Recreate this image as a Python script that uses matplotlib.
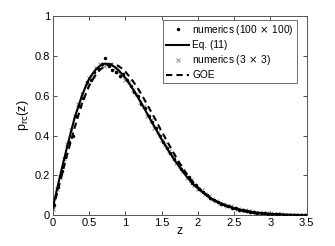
import matplotlib
matplotlib.use("Agg")
import matplotlib.pyplot as plt

plt.rcParams['font.family'] = ['Liberation Sans', 'DejaVu Sans']

# Eq. (11) curve (solid)
z_curve = [0.00, 0.05, 0.10, 0.15, 0.20, 0.25, 0.30, 0.35, 0.40, 0.45, 0.50, 0.55,
           0.60, 0.65, 0.70, 0.75, 0.80, 0.85, 0.90, 0.95, 1.00, 1.05, 1.10, 1.15,
           1.20, 1.25, 1.30, 1.35, 1.40, 1.45, 1.50, 1.55, 1.60, 1.65, 1.70, 1.75,
           1.80, 1.85, 1.90, 1.95, 2.00, 2.10, 2.20, 2.30, 2.40, 2.50, 2.60, 2.70,
           2.80, 2.90, 3.00, 3.10, 3.20, 3.30, 3.40, 3.50]
eq11 = [0.040, 0.120, 0.200, 0.275, 0.350, 0.420, 0.490, 0.545, 0.600, 0.645, 0.685, 0.712,
        0.735, 0.750, 0.760, 0.760, 0.755, 0.745, 0.730, 0.710, 0.690, 0.662, 0.635, 0.605,
        0.575, 0.542, 0.510, 0.477, 0.445, 0.412, 0.380, 0.350, 0.320, 0.292, 0.265, 0.240,
        0.215, 0.192, 0.170, 0.150, 0.135, 0.105, 0.080, 0.062, 0.048, 0.036, 0.027, 0.020,
        0.014, 0.010, 0.007, 0.005, 0.003, 0.002, 0.001, 0.001]
goe = [0.030, 0.100, 0.170, 0.240, 0.310, 0.375, 0.440, 0.500, 0.560, 0.605, 0.650, 0.682,
       0.710, 0.730, 0.745, 0.753, 0.758, 0.756, 0.750, 0.737, 0.720, 0.698, 0.675, 0.648,
       0.620, 0.588, 0.555, 0.522, 0.490, 0.455, 0.420, 0.388, 0.355, 0.322, 0.290, 0.260,
       0.230, 0.205, 0.180, 0.160, 0.140, 0.108, 0.080, 0.060, 0.045, 0.033, 0.022, 0.015,
       0.010, 0.007, 0.005, 0.003, 0.002, 0.001, 0.001, 0.000]

# numerics (100 x 100): dots
dots_z = [0.02, 0.07, 0.12, 0.17, 0.22, 0.27, 0.32, 0.37, 0.42, 0.47, 0.52, 0.57,
          0.62, 0.67, 0.72, 0.77, 0.82, 0.87, 0.92, 0.97, 1.02, 1.07, 1.12, 1.17,
          1.22, 1.27, 1.32, 1.37, 1.42, 1.47, 1.52, 1.57, 1.62, 1.67, 1.72, 1.77,
          1.82, 1.87, 1.92, 1.97, 2.02, 2.07, 2.12, 2.17, 2.22, 2.27, 2.32, 2.37,
          2.42, 2.47, 2.52, 2.57, 2.62, 2.67, 2.72, 2.77, 2.82, 2.87, 2.92, 2.97,
          3.02, 3.07, 3.12, 3.17, 3.22, 3.27, 3.32, 3.37, 3.42, 3.47]
dots_p = [0.050, 0.140, 0.220, 0.290, 0.370, 0.400, 0.500, 0.550, 0.590, 0.670, 0.680, 0.720,
          0.740, 0.760, 0.790, 0.750, 0.730, 0.720, 0.700, 0.710, 0.680, 0.650, 0.620, 0.600,
          0.560, 0.540, 0.500, 0.470, 0.440, 0.400, 0.370, 0.340, 0.310, 0.280, 0.260, 0.230,
          0.210, 0.190, 0.160, 0.150, 0.130, 0.115, 0.100, 0.085, 0.075, 0.065, 0.058, 0.050,
          0.046, 0.038, 0.034, 0.028, 0.025, 0.021, 0.018, 0.015, 0.012, 0.010, 0.009, 0.007,
          0.006, 0.005, 0.004, 0.003, 0.003, 0.002, 0.002, 0.001, 0.001, 0.001]

# numerics (3 x 3): crosses
cross_z = [0.00, 0.05, 0.10, 0.15, 0.20, 0.25, 0.30, 0.35, 0.40, 0.45, 0.50, 0.55,
           0.60, 0.65, 0.70, 0.75, 0.80, 0.85, 0.90, 0.95, 1.00, 1.05, 1.10, 1.15,
           1.20, 1.25, 1.30, 1.35, 1.40, 1.45, 1.50, 1.55, 1.60, 1.65, 1.70, 1.75,
           1.80, 1.85, 1.90, 1.95, 2.00, 2.05, 2.10, 2.15, 2.20, 2.25, 2.30, 2.35,
           2.40, 2.45, 2.50, 2.55, 2.60, 2.65, 2.70, 2.75, 2.80, 2.85, 2.90, 2.95,
           3.00, 3.05, 3.10, 3.15, 3.20, 3.25, 3.30, 3.35, 3.40, 3.45, 3.50]
cross_p = [0.030, 0.130, 0.190, 0.280, 0.360, 0.430, 0.500, 0.560, 0.610, 0.650, 0.690, 0.700,
           0.740, 0.760, 0.750, 0.760, 0.760, 0.740, 0.720, 0.700, 0.680, 0.670, 0.630, 0.610,
           0.570, 0.550, 0.500, 0.480, 0.440, 0.420, 0.380, 0.360, 0.320, 0.300, 0.260, 0.245,
           0.220, 0.185, 0.175, 0.150, 0.130, 0.125, 0.105, 0.095, 0.080, 0.072, 0.060, 0.057,
           0.047, 0.044, 0.035, 0.033, 0.026, 0.024, 0.019, 0.018, 0.013, 0.013, 0.009, 0.009,
           0.006, 0.006, 0.004, 0.004, 0.003, 0.003, 0.002, 0.002, 0.001, 0.001, 0.001]

xticks = [0, 0.5, 1, 1.5, 2, 2.5, 3, 3.5]
xticklabels = ['0', '0.5', '1', '1.5', '2', '2.5', '3', '3.5']
yticks = [0, 0.2, 0.4, 0.6, 0.8, 1]
yticklabels = ['0', '0.2', '0.4', '0.6', '0.8', '1']

fig = plt.figure(figsize=(3.35, 2.46), dpi=100)
ax = fig.add_axes([0.158, 0.125, 0.7575, 0.81])

ax.plot(dots_z, dots_p, linestyle='none', marker='.', color='black', markersize=3,
        label=r'numerics (100$\,\times\,$100)', zorder=4)
ax.plot(z_curve, eq11, '-', color='black', linewidth=1.5, label='Eq. (11)', zorder=3)
ax.plot(cross_z, cross_p, linestyle='none', marker='x', color='#8a8a8a', markersize=3.5,
        markeredgewidth=0.7, label=r'numerics (3$\,\times\,$3)', zorder=2)
ax.plot(z_curve, goe, '--', color='black', linewidth=1.5, dashes=(3, 2), label='GOE', zorder=3)

ax.set_xlim(0, 3.5)
ax.set_ylim(0, 1)
ax.set_xticks(xticks)
ax.set_xticklabels(xticklabels)
ax.set_yticks(yticks)
ax.set_yticklabels(yticklabels)
ax.tick_params(direction='in', top=True, right=True, length=3, width=0.6,
               labelsize=8, pad=2, colors='#333333', labelcolor='black')
for s in ax.spines.values():
    s.set_linewidth(0.7)
    s.set_color('#555555')

ax.set_xlabel('z', fontsize=9, labelpad=-2)
ax.set_ylabel(r'p$_{\mathrm{rc}}$(z)', fontsize=9, labelpad=3)

leg = ax.legend(loc='upper right', bbox_to_anchor=(0.962, 0.98), fontsize=7.3,
                frameon=True, fancybox=False, edgecolor='#555555', framealpha=1,
                handlelength=2.3, handletextpad=0.3, borderpad=0.3,
                labelspacing=0.3, borderaxespad=0)
leg.get_frame().set_linewidth(0.6)

fig.savefig('out.png', dpi=100)
